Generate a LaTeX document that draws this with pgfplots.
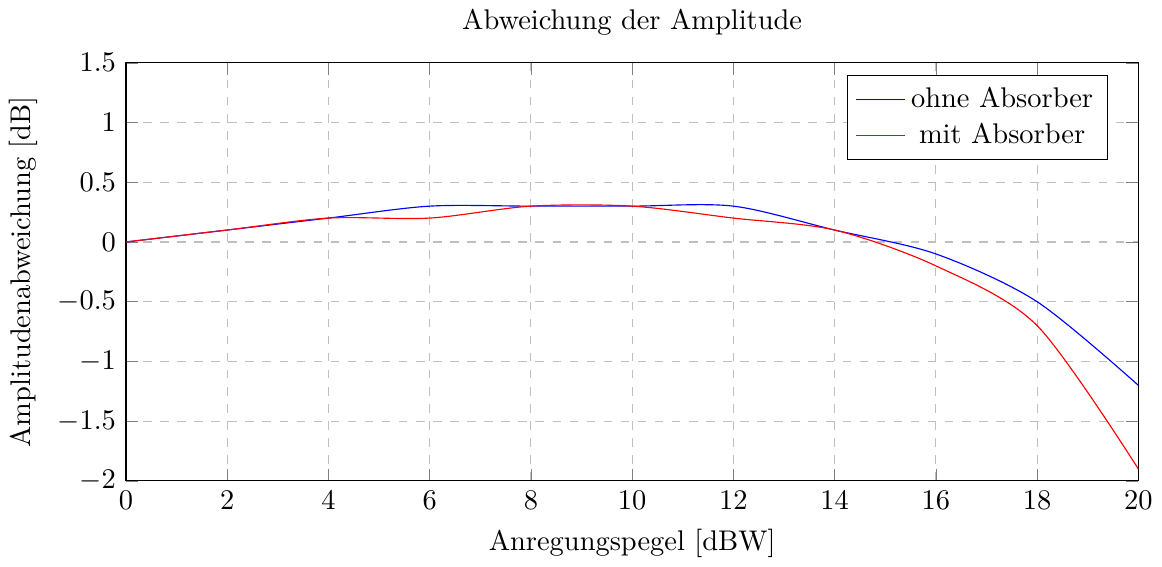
\documentclass[border=0pt]{standalone}
\usepackage{pgfplots}
\pgfplotsset{compat=1.18}
\begin{document}
\begin{tikzpicture}
\begin{axis}[
  scale only axis,
  width=356pt, height=147pt,
  xmin=0, xmax=20, ymin=-2, ymax=1.5,
  xtick={0,2,...,20},
  ytick={-2,-1.5,-1,-0.5,0,0.5,1,1.5},
  grid=major,
  major grid style={dashed, gray!50},
  title={Abweichung der Amplitude},
  xlabel={Anregungspegel [dBW]},
  ylabel={Amplitudenabweichung [dB]},
  legend pos=north east,
  legend cell align=center,
]
\addplot[blue, smooth] coordinates {
(0,0) (2,0.1) (4,0.2) (6,0.3) (8,0.3) (10,0.3) (12,0.3) (14,0.1) (16,-0.1) (18,-0.5) (20,-1.2)};
\addlegendentry{ohne Absorber}
\addplot[red, smooth] coordinates {
(0,0) (2,0.1) (4,0.2) (6,0.2) (8,0.3) (10,0.3) (12,0.2) (14,0.1) (16,-0.2) (18,-0.7) (20,-1.9)};
\addlegendentry{mit Absorber}
\end{axis}
\end{tikzpicture}
\end{document}
